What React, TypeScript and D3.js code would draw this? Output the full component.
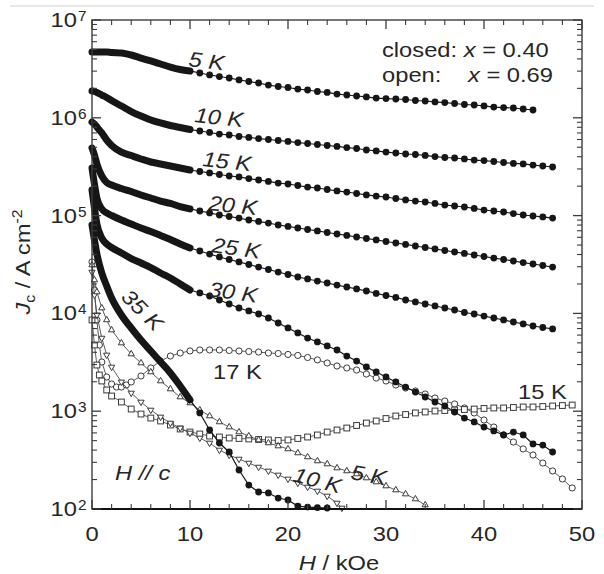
import React from "react";
import * as d3 from "d3";

// ---------- data (log10 of Jc in A cm^-2) ----------
const fieldLow = [0, 0.25, 0.5, 1, 1.5, 2, 3, 4, 5, 6, 7, 8, 9, 10];
const fieldHigh = [11, 12, 13, 14, 15, 16, 17, 18, 19, 20, 21, 22, 23, 24, 25, 26, 27, 28, 29, 30,
  31, 32, 33, 34, 35, 36, 37, 38, 39, 40, 41, 42, 43, 44, 45, 46, 47];

// closed symbols, x = 0.40
const logJc5K_low = [6.673, 6.673, 6.673, 6.673, 6.673, 6.668, 6.663, 6.642, 6.611, 6.581, 6.550, 6.519, 6.494, 6.479];
const logJc5K_high = [6.458, 6.438, 6.422, 6.407, 6.387, 6.371, 6.356, 6.335, 6.320, 6.310, 6.294, 6.284, 6.269, 6.259,
  6.243, 6.233, 6.223, 6.213, 6.202, 6.197, 6.192, 6.187, 6.177, 6.172, 6.162, 6.156, 6.146, 6.136, 6.131, 6.121,
  6.110, 6.105, 6.100, 6.090, 6.080];
const logJc10K_low = [6.274, 6.269, 6.259, 6.233, 6.208, 6.177, 6.121, 6.064, 6.018, 5.978, 5.947, 5.921, 5.901, 5.880];
const logJc10K_high = [5.865, 5.850, 5.834, 5.824, 5.809, 5.799, 5.788, 5.778, 5.768, 5.758, 5.747, 5.737, 5.727, 5.717,
  5.707, 5.696, 5.686, 5.671, 5.661, 5.650, 5.640, 5.630, 5.625, 5.615, 5.604, 5.594, 5.589, 5.579, 5.568, 5.563,
  5.553, 5.543, 5.533, 5.528, 5.517, 5.507, 5.497];
const logJc15K_low = [5.957, 5.937, 5.906, 5.845, 5.773, 5.717, 5.650, 5.614, 5.579, 5.548, 5.528, 5.507, 5.487, 5.466];
const logJc15K_high = [5.451, 5.436, 5.420, 5.405, 5.395, 5.379, 5.364, 5.349, 5.333, 5.323, 5.308, 5.292, 5.282, 5.267,
  5.252, 5.241, 5.226, 5.211, 5.200, 5.190, 5.175, 5.160, 5.149, 5.139, 5.124, 5.108, 5.098, 5.088, 5.073, 5.057,
  5.047, 5.037, 5.021, 5.006, 4.996, 4.986, 4.975];
const logJc20K_low = [5.691, 5.620, 5.528, 5.405, 5.338, 5.313, 5.277, 5.246, 5.211, 5.180, 5.149, 5.124, 5.093, 5.068];
const logJc20K_high = [5.047, 5.027, 5.006, 4.991, 4.975, 4.955, 4.940, 4.924, 4.904, 4.889, 4.873, 4.858, 4.843, 4.827,
  4.812, 4.797, 4.781, 4.766, 4.751, 4.735, 4.720, 4.705, 4.689, 4.674, 4.659, 4.643, 4.628, 4.613, 4.597, 4.582,
  4.566, 4.551, 4.536, 4.520, 4.505, 4.490, 4.474];
const logJc25K_low = [5.487, 5.323, 5.180, 5.068, 5.027, 5.001, 4.955, 4.914, 4.873, 4.837, 4.797, 4.756, 4.710, 4.669];
const logJc25K_high = [4.638, 4.607, 4.577, 4.551, 4.526, 4.500, 4.474, 4.449, 4.423, 4.398, 4.372, 4.352, 4.331, 4.311,
  4.290, 4.270, 4.250, 4.229, 4.204, 4.183, 4.163, 4.137, 4.117, 4.096, 4.076, 4.055, 4.035, 4.009, 3.994, 3.973,
  3.953, 3.933, 3.912, 3.892, 3.871, 3.856, 3.841];
const logJc30K_low = [5.262, 5.078, 4.914, 4.771, 4.710, 4.674, 4.618, 4.561, 4.515, 4.469, 4.413, 4.362, 4.301, 4.239];
const logJc30K_high = [4.209, 4.178, 4.137, 4.096, 4.055, 4.025, 3.994, 3.953, 3.902, 3.851, 3.800, 3.748, 3.708, 3.667,
  3.626, 3.564, 3.513, 3.452, 3.401, 3.350, 3.299, 3.247, 3.196, 3.145, 3.094, 3.053, 2.992, 2.930, 2.890, 2.838,
  2.798, 2.757, 2.787, 2.757, 2.665, 2.654, 2.583];
const logJc35K_low = [4.904, 4.751, 4.607, 4.413, 4.280, 4.157, 3.984, 3.851, 3.728, 3.616, 3.503, 3.391, 3.258, 3.115];
const logJc35K_high = [2.982, 2.808, 2.675, 2.583, 2.399, 2.245, 2.174, 2.164, 2.112, 2.092, 2.030, 2.020, 2.015, 2.010];

// open symbols, x = 0.69
const fieldOpen17K = [0, 0.25, 0.5, 0.75, 1, 1.5, 2, 2.5, 3, 3.5, 4, 5, 6, 7, 8, 9, 10, 11, 12, 13, 14, 15, 16, 17, 18,
  19, 20, 21, 22, 23, 24, 25, 26, 27, 28, 29, 30, 31, 32, 33, 34, 35, 36, 37, 38, 39, 40, 41, 42, 43, 44, 45, 46, 47, 48, 49];
const logJcOpen17K = [4.526, 4.239, 3.933, 3.677, 3.503, 3.350, 3.278, 3.247, 3.247, 3.268, 3.299, 3.360, 3.442, 3.513,
  3.564, 3.595, 3.616, 3.626, 3.626, 3.626, 3.621, 3.616, 3.610, 3.605, 3.595, 3.590, 3.580, 3.570, 3.549, 3.524,
  3.493, 3.462, 3.442, 3.421, 3.380, 3.339, 3.309, 3.268, 3.237, 3.207, 3.176, 3.135, 3.104, 3.074, 3.033, 2.982,
  2.910, 2.838, 2.757, 2.685, 2.614, 2.552, 2.470, 2.389, 2.307, 2.215];
const fieldOpen15K = [0, 0.25, 0.5, 0.75, 1, 1.5, 2, 3, 4, 5, 6, 7, 8, 9, 10, 11, 12, 13, 14, 15, 16, 17, 18, 19, 20,
  21, 22, 23, 24, 25, 26, 27, 28, 29, 30, 31, 32, 33, 34, 35, 36, 37, 38, 39, 40, 41, 42, 43, 44, 45, 46, 47, 48, 49];
const logJcOpen15K = [3.933, 3.677, 3.472, 3.370, 3.309, 3.217, 3.155, 3.094, 3.022, 2.971, 2.930, 2.900, 2.859, 2.818,
  2.787, 2.767, 2.746, 2.736, 2.726, 2.721, 2.716, 2.711, 2.706, 2.700, 2.706, 2.721, 2.736, 2.757, 2.787, 2.808,
  2.828, 2.854, 2.879, 2.900, 2.925, 2.951, 2.966, 2.982, 2.992, 3.002, 3.007, 3.012, 3.017, 3.022, 3.028, 3.033,
  3.033, 3.038, 3.043, 3.043, 3.048, 3.053, 3.058, 3.063];
const fieldOpen10K = [0, 0.25, 0.5, 1, 1.5, 2, 3, 4, 5, 6, 7, 8, 9, 10, 11, 12, 13, 14, 15, 16, 17, 18, 19, 20, 21, 22,
  23, 24, 25, 25.5];
const logJcOpen10K = [4.423, 4.188, 3.984, 3.748, 3.575, 3.452, 3.299, 3.186, 3.094, 3.012, 2.941, 2.879, 2.828, 2.777,
  2.726, 2.675, 2.603, 2.552, 2.511, 2.470, 2.429, 2.389, 2.348, 2.307, 2.266, 2.225, 2.184, 2.133, 2.061, 2.010];
const fieldOpen5K = [0, 0.25, 0.5, 1, 1.5, 2, 3, 4, 5, 6, 7, 8, 9, 10, 11, 12, 13, 14, 15, 16, 17, 18, 19, 20, 21, 22,
  23, 24, 25, 26, 27, 28, 29, 30, 31, 32, 33, 34];
const logJcOpen5K = [4.495, 4.342, 4.219, 4.055, 3.933, 3.830, 3.697, 3.585, 3.493, 3.401, 3.309, 3.227, 3.145, 3.084,
  3.012, 2.951, 2.890, 2.838, 2.787, 2.746, 2.706, 2.675, 2.644, 2.614, 2.573, 2.532, 2.491, 2.460, 2.419, 2.389,
  2.358, 2.317, 2.276, 2.235, 2.194, 2.153, 2.102, 2.041];

const xTickValues = [0, 10, 20, 30, 40, 50];
const yDecades = [2, 3, 4, 5, 6, 7];

// ---------- layout ----------
const FONT = "'Liberation Sans', Arial, Helvetica, sans-serif";
const X0 = 92, X1 = 582, Y0 = 509, Y1 = 20;
const INK = "#161616";
const TEXT = "#262626";

type TP = {
  x: number; y: number; size?: number; anchor?: string; italic?: boolean; rotate?: number;
  children?: React.ReactNode; sx?: number;
};
function T({ x, y, size = 21, anchor = "start", italic = false, rotate = 0, children, sx = 1.13 }: TP) {
  return (
    <text
      transform={`translate(${x},${y}) rotate(${rotate}) scale(${sx},1)`}
      fontSize={size}
      fontFamily={FONT}
      textAnchor={anchor as any}
      fontStyle={italic ? "italic" : "normal"}
      fill={TEXT}
    >
      {children}
    </text>
  );
}

export default function App() {
  const x = d3.scaleLinear().domain([0, 50]).range([X0, X1]);
  const y = d3.scaleLog().domain([1e2, 1e7]).range([Y0, Y1]);
  const J = (v: number) => Math.pow(10, v);
  const smooth = d3
    .line<[number, number]>()
    .x((d) => x(d[0]))
    .y((d) => y(J(d[1])))
    .curve(d3.curveMonotoneX);
  const straight = d3
    .line<[number, number]>()
    .x((d) => x(d[0]))
    .y((d) => y(J(d[1])));

  const closed = [
    { low: logJc5K_low, high: logJc5K_high },
    { low: logJc10K_low, high: logJc10K_high },
    { low: logJc15K_low, high: logJc15K_high },
    { low: logJc20K_low, high: logJc20K_high },
    { low: logJc25K_low, high: logJc25K_high },
    { low: logJc30K_low, high: logJc30K_high },
    { low: logJc35K_low, high: logJc35K_high },
  ].map((s) => ({
    low: fieldLow.map((h, i) => [h, s.low[i]] as [number, number]),
    high: s.high.map((v, i) => [fieldHigh[i], v] as [number, number]),
  }));

  const open = [
    { field: fieldOpen17K, vals: logJcOpen17K, sym: "circle" },
    { field: fieldOpen15K, vals: logJcOpen15K, sym: "square" },
    { field: fieldOpen10K, vals: logJcOpen10K, sym: "tridown" },
    { field: fieldOpen5K, vals: logJcOpen5K, sym: "triup" },
  ].map((s) => ({ sym: s.sym, pts: s.field.map((h, i) => [h, s.vals[i]] as [number, number]) }));

  const tri = d3.symbol().type(d3.symbolTriangle).size(17)() as string;

  const renderSym = (sym: string, px: number, py: number, k: number) => {
    const common = { fill: "#fff", stroke: "#3a3a3a", strokeWidth: 1 };
    if (sym === "circle") return <circle key={k} cx={px} cy={py} r={3.1} {...common} />;
    if (sym === "square") return <rect key={k} x={px - 2.9} y={py - 2.9} width={5.8} height={5.8} {...common} />;
    if (sym === "triup") return <path key={k} d={tri} transform={`translate(${px},${py})`} {...common} />;
    return <path key={k} d={tri} transform={`translate(${px},${py}) rotate(180)`} {...common} />;
  };

  const xMinor = x.ticks(25).filter((t) => t % 10 !== 0);
  const yAll = y.ticks();
  const yMinor = yAll.filter((t) => Math.abs(Math.log10(t) - Math.round(Math.log10(t))) > 1e-6);
  const frame = "#3c3c3c";

  return (
    <svg
      width={604}
      height={574}
      viewBox="0 0 604 574"
      style={{ position: "absolute", left: 0, top: 0, background: "#fff" }}
    >
      <rect x={0} y={0} width={604} height={574} fill="#fff" />
      <line x1={10} x2={594} y1={6} y2={6} stroke="#cfcfcf" strokeWidth={1} />

      {/* open series */}
      <g>
        {open.map((s, i) => (
          <g key={i}>
            <path d={straight(s.pts) as string} fill="none" stroke="#4a4a4a" strokeWidth={0.9} />
            {s.pts.map((p, k) => renderSym(s.sym, x(p[0]), y(J(p[1])), k))}
          </g>
        ))}
      </g>

      {/* closed series */}
      <g>
        {closed.map((s, i) => (
          <g key={i}>
            <path
              d={smooth(s.low) as string}
              fill="none"
              stroke={INK}
              strokeWidth={7}
              strokeLinecap="round"
              strokeLinejoin="round"
            />
            <path
              d={straight([s.low[s.low.length - 1], ...s.high]) as string}
              fill="none"
              stroke={INK}
              strokeWidth={1.2}
            />
            {s.high.map((p, k) => (
              <circle key={k} cx={x(p[0])} cy={y(J(p[1]))} r={3.4} fill={INK} />
            ))}
          </g>
        ))}
      </g>

      {/* frame */}
      <rect x={X0} y={Y1} width={X1 - X0} height={Y0 - Y1} fill="none" stroke={frame} strokeWidth={1.4} />
      <line x1={X0} x2={X1} y1={Y0} y2={Y0} stroke="#111" strokeWidth={2} />

      {/* x ticks */}
      {xTickValues.map((t) => (
        <g key={"xt" + t}>
          <line x1={x(t)} x2={x(t)} y1={Y0} y2={Y0 - 9} stroke={frame} strokeWidth={1.3} />
          <line x1={x(t)} x2={x(t)} y1={Y1} y2={Y1 + 9} stroke={frame} strokeWidth={1.3} />
          <T x={x(t)} y={541} anchor="middle">{t}</T>
        </g>
      ))}
      {xMinor.map((t) => (
        <g key={"xm" + t}>
          <line x1={x(t)} x2={x(t)} y1={Y0} y2={Y0 - 5} stroke={frame} strokeWidth={1.1} />
          <line x1={x(t)} x2={x(t)} y1={Y1} y2={Y1 + 5} stroke={frame} strokeWidth={1.1} />
        </g>
      ))}

      {/* y ticks */}
      {yDecades.map((d) => {
        const py = y(Math.pow(10, d));
        return (
          <g key={"yt" + d}>
            <line x1={X0} x2={X0 + 9} y1={py} y2={py} stroke={frame} strokeWidth={1.3} />
            <line x1={X1} x2={X1 - 9} y1={py} y2={py} stroke={frame} strokeWidth={1.3} />
            <T x={77} y={py + 7} anchor="end">10</T>
            <T x={78} y={py + 1} size={14} sx={1.1}>{d}</T>
          </g>
        );
      })}
      {yMinor.map((t, i) => {
        const py = y(t);
        return (
          <g key={"ym" + i}>
            <line x1={X0} x2={X0 + 5} y1={py} y2={py} stroke={frame} strokeWidth={1.1} />
            <line x1={X1} x2={X1 - 5} y1={py} y2={py} stroke={frame} strokeWidth={1.1} />
          </g>
        );
      })}

      {/* axis titles */}
      <T x={339} y={570} anchor="middle">
        <tspan fontStyle="italic">H</tspan> / kOe
      </T>
      <T x={30} y={262} anchor="middle" rotate={-90}>
        <tspan fontStyle="italic">J</tspan>
        <tspan fontSize={14} dy={5}>c</tspan>
        <tspan dy={-5}> / A cm</tspan>
        <tspan fontSize={14} dy={-8}>-2</tspan>
      </T>

      {/* legend */}
      <T x={382} y={57}>
        closed: <tspan fontStyle="italic">x</tspan> = 0.40
      </T>
      <T x={382} y={82}>open:</T>
      <T x={553} y={82} anchor="end">
        <tspan fontStyle="italic">x</tspan> = 0.69
      </T>

      {/* curve labels */}
      <T x={188} y={66} italic rotate={7}>5 K</T>
      <T x={194} y={122} italic rotate={6}>10 K</T>
      <T x={202} y={166} italic rotate={6}>15 K</T>
      <T x={208} y={210} italic rotate={6}>20 K</T>
      <T x={211} y={252} italic rotate={8}>25 K</T>
      <T x={208} y={296} italic rotate={8}>30 K</T>
      <T x={120} y={298} italic rotate={45}>35 K</T>
      <T x={213} y={379}>17 K</T>
      <T x={518} y={399}>15 K</T>
      <T x={350} y={479} italic rotate={10}>5 K</T>
      <T x={292} y={481} italic rotate={15}>10 K</T>
      <T x={115} y={480} italic>H // c</T>
    </svg>
  );
}
